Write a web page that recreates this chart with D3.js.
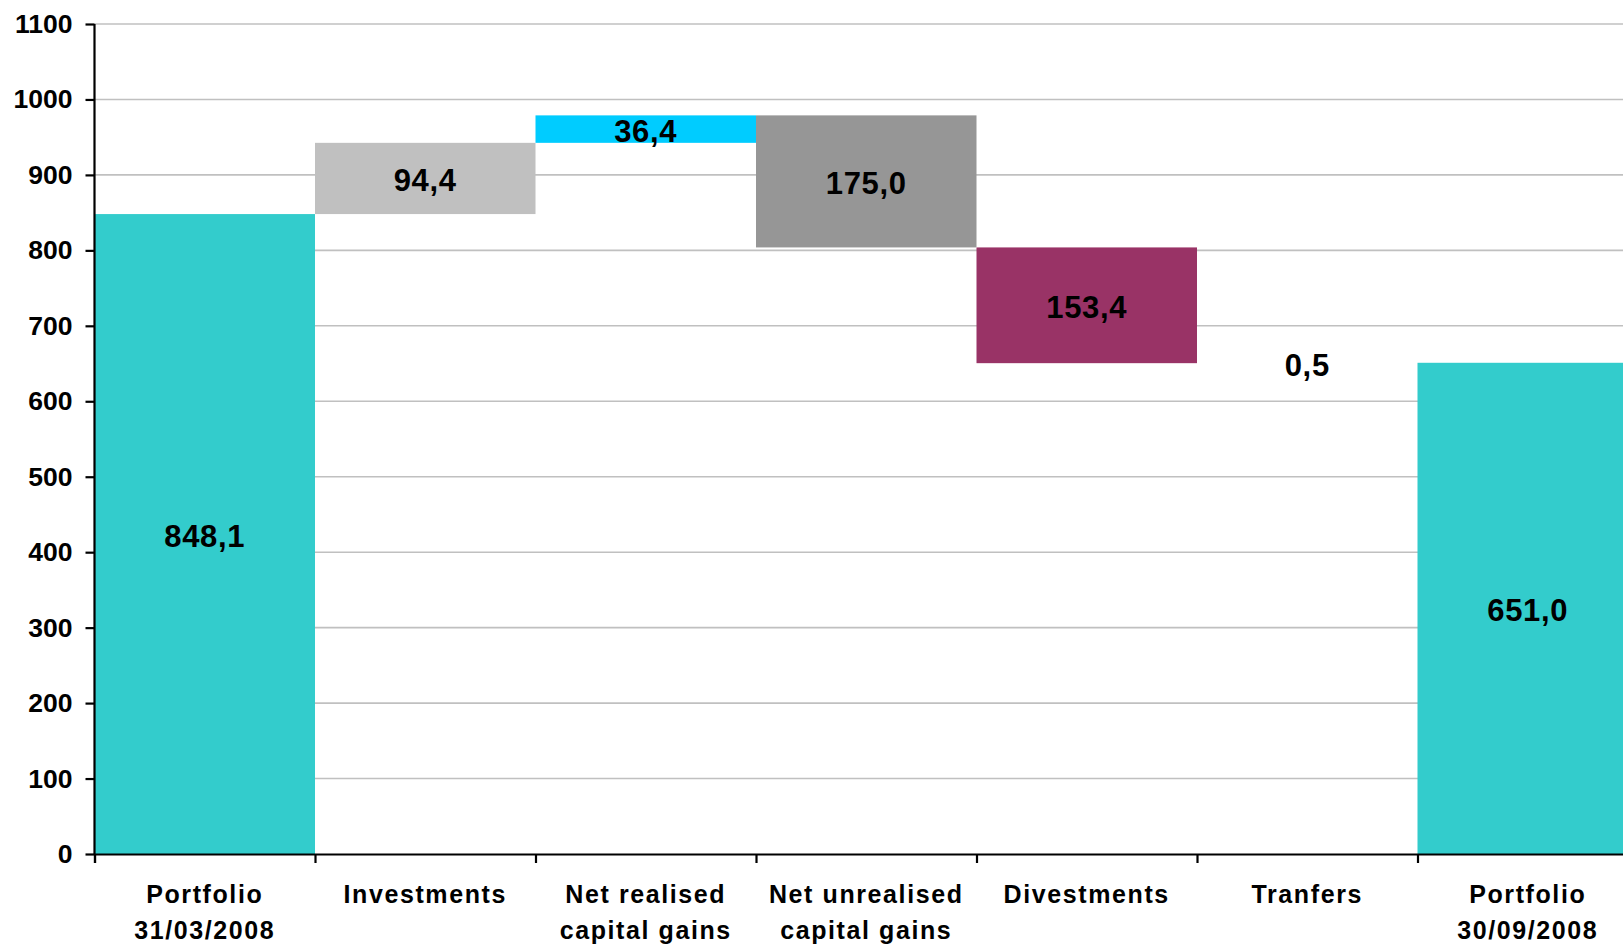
<!DOCTYPE html>
<html>
<head>
<meta charset="utf-8">
<script src="https://cdn.jsdelivr.net/npm/d3@7"></script>
<style>
  html, body { margin: 0; padding: 0; background: #fff; overflow: hidden; }
  svg { display: block; }
  text { font-family: "Liberation Sans", Arial, sans-serif; font-weight: bold; fill: #000; }
</style>
</head>
<body>
<svg id="chart" width="1623" height="947"></svg>
<script>
// Data
const categories = [["Portfolio", "31/03/2008"], ["Investments"], ["Net realised", "capital gains"], ["Net unrealised", "capital gains"], ["Divestments"], ["Tranfers"], ["Portfolio", "30/09/2008"]];
const values = [848.1, 94.4, 36.4, -175.0, -153.4, 0.5, 651.0];
const labels = ["848,1", "94,4", "36,4", "175,0", "153,4", "0,5", "651,0"];
const isTotal = [true, false, false, false, false, false, true];
const colors = ["#33CCCC", "#C0C0C0", "#00CCFF", "#969696", "#993366", "#FFFFFF", "#33CCCC"];
const yTicks = [0, 100, 200, 300, 400, 500, 600, 700, 800, 900, 1000, 1100];

(function () {
// Build waterfall segments
let running = 0;
const segs = values.map((v, i) => {
  let lo, hi;
  if (isTotal[i]) { lo = 0; hi = v; running = v; }
  else { const s = running; running = s + v; lo = Math.min(s, running); hi = Math.max(s, running); }
  return { i, lo, hi, label: labels[i], color: colors[i] };
});

const svg = d3.select("#chart");
const mLeft = 94.5, bandW = 220.5;
const pTop = 24, pBottom = 854;

const x = d3.scaleBand().domain(d3.range(categories.length)).range([mLeft, mLeft + bandW * categories.length]).padding(0);
const y = d3.scaleLinear().domain([0, 1100]).range([pBottom, pTop]);

// gridlines
svg.append("g").selectAll("line").data(yTicks.filter(t => t > 0)).join("line")
  .attr("x1", mLeft).attr("x2", 1623)
  .attr("y1", d => y(d)).attr("y2", d => y(d))
  .attr("stroke", "#C0C0C0").attr("stroke-width", 1.6);

// bars
svg.append("g").selectAll("rect").data(segs).join("rect")
  .attr("x", d => x(d.i)).attr("width", x.bandwidth())
  .attr("y", d => y(d.hi)).attr("height", d => Math.max(0, y(d.lo) - y(d.hi)))
  .attr("fill", d => d.color);

// value labels
svg.append("g").selectAll("text").data(segs).join("text")
  .attr("x", d => x(d.i) + x.bandwidth() / 2)
  .attr("y", d => y((d.lo + d.hi) / 2) + 2.5)
  .attr("text-anchor", "middle").attr("dominant-baseline", "central")
  .style("font-size", "31px").style("letter-spacing", "0.7px")
  .text(d => d.label);

// y axis
const yAxis = d3.axisLeft(y).tickValues(yTicks).tickSize(9).tickPadding(13).tickFormat(d3.format("d"));
const gy = svg.append("g").attr("transform", `translate(${mLeft},0)`).call(yAxis);
gy.select(".domain").attr("stroke", "#000").attr("stroke-width", 2.2).attr("d", `M0,${pTop}V${pBottom}`);
gy.selectAll(".tick line").attr("stroke", "#000").attr("stroke-width", 2.2);
gy.selectAll(".tick text").style("font-size", "26.5px").attr("font-family", null).attr("fill", "#000");

// x axis
const xAxis = d3.axisBottom(d3.scaleLinear().domain([0, categories.length]).range([mLeft, mLeft + bandW * categories.length]))
  .tickValues(d3.range(categories.length + 1)).tickSize(9).tickFormat("");
const gx = svg.append("g").attr("transform", `translate(0,${pBottom})`).call(xAxis);
gx.select(".domain").attr("stroke", "#000").attr("stroke-width", 2.2);
gx.selectAll(".tick line").attr("stroke", "#000").attr("stroke-width", 2.2);

// category labels
const cl = svg.append("g").selectAll("text").data(categories).join("text")
  .attr("text-anchor", "middle")
  .style("font-size", "25px").style("letter-spacing", "1.6px");
cl.each(function(lines, i) {
  const t = d3.select(this);
  lines.forEach((ln, k) => {
    t.append("tspan").attr("x", x(i) + x.bandwidth() / 2).attr("y", 903 + k * 36).text(ln);
  });
});
})();
</script>
</body>
</html>
